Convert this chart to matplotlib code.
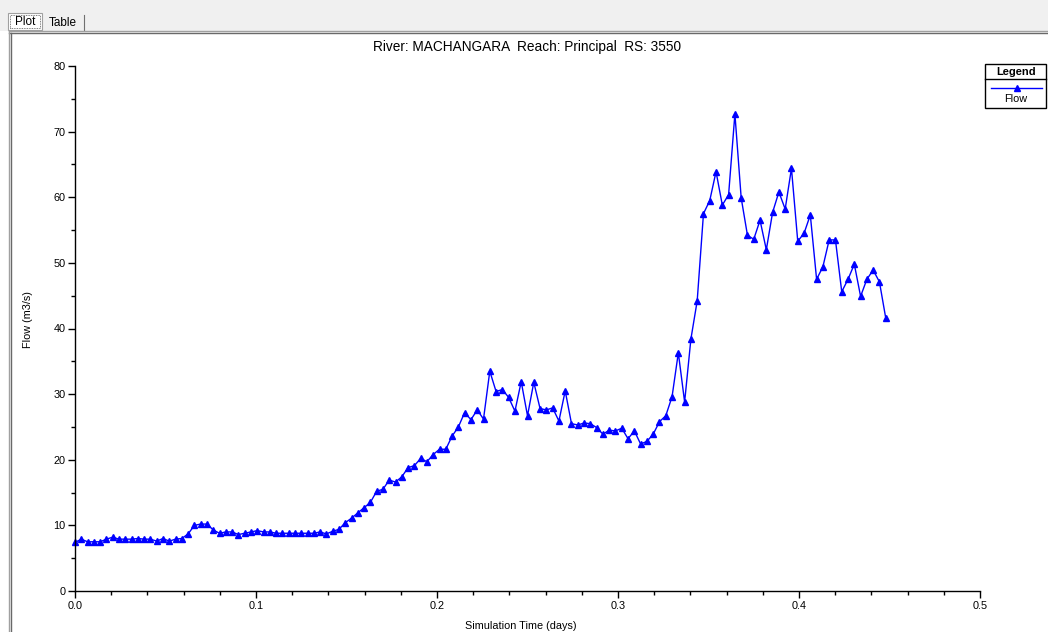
import numpy as np
import matplotlib
matplotlib.use("Agg")
import matplotlib.pyplot as plt
from matplotlib.lines import Line2D
from matplotlib.patches import Rectangle

# =========================
# DATA (read off the HEC-RAS hydrograph, 5 min output interval)
# =========================
step_minutes = 5
flow = [
    7.4, 7.9, 7.5, 7.5, 7.5, 7.9, 8.2, 7.9, 7.9, 7.9,
    8.0, 7.9, 7.9, 7.6, 8.0, 7.6, 7.9, 8.0, 8.7, 10.0,
    10.2, 10.2, 9.3, 8.8, 9.0, 9.0, 8.6, 8.8, 9.0, 9.2,
    9.0, 9.0, 8.8, 8.8, 8.8, 8.8, 8.8, 8.8, 8.8, 9.0,
    8.7, 9.1, 9.4, 10.4, 11.1, 11.9, 12.7, 13.5, 15.2, 15.5,
    16.9, 16.6, 17.4, 18.8, 19.1, 20.2, 19.7, 20.8, 21.6, 21.6,
    23.6, 25.0, 27.2, 26.1, 27.6, 26.2, 33.5, 30.4, 30.7, 29.5,
    27.4, 31.9, 26.7, 31.8, 27.8, 27.6, 27.9, 25.9, 30.5, 25.5,
    25.3, 25.6, 25.5, 24.9, 23.9, 24.5, 24.4, 24.8, 23.2, 24.4,
    22.4, 22.8, 23.9, 25.8, 26.7, 29.6, 36.3, 28.8, 38.4, 44.2,
    57.5, 59.5, 63.9, 58.8, 60.4, 72.7, 59.9, 54.2, 53.6, 56.5,
    52.0, 57.7, 60.8, 58.2, 64.4, 53.3, 54.5, 57.3, 47.5, 49.4,
    53.5, 53.5, 45.6, 47.5, 49.8, 44.9, 47.5, 48.9, 47.1, 41.6,
]
time_days = np.arange(len(flow)) * step_minutes / 1440.0

title = "River: MACHANGARA  Reach: Principal  RS: 3550"
x_label = "Simulation Time (days)"
y_label = "Flow (m3/s)"
series_name = "Flow"
x_ticks = [0.0, 0.1, 0.2, 0.3, 0.4, 0.5]
y_ticks = [0, 10, 20, 30, 40, 50, 60, 70, 80]

W, H = 1048, 632
LINE_BLUE = "#0000ff"
FONT = ["Liberation Sans Narrow", "Liberation Sans", "DejaVu Sans"]
plt.rcParams["font.family"] = ["Liberation Sans", "DejaVu Sans"]


def fx(px):
    return px / W


def fy(py):
    return 1 - py / H


# =========================
# FIGURE + WINDOW CHROME
# =========================
fig = plt.figure(figsize=(W / 100, H / 100), dpi=100, facecolor="white")

fig.add_artist(Rectangle((0, fy(31)), 1, 1 - fy(31), transform=fig.transFigure,
                         facecolor="#f0f0f0", edgecolor="none", zorder=0))
# tab headers
fig.add_artist(Rectangle((fx(8), fy(30)), fx(34), fy(13) - fy(30), transform=fig.transFigure,
                         facecolor="white", edgecolor="#a0a0a0", lw=0.8, zorder=1))
fig.text(fx(25), fy(22), "Plot", ha="center", va="center", fontsize=8.5, family=FONT[1:])
fig.add_artist(Rectangle((fx(10), fy(28)), fx(30), fy(15) - fy(28), transform=fig.transFigure,
                         facecolor="none", edgecolor="#555555", lw=0.6, ls=(0, (1, 1)), zorder=2))
fig.text(fx(63), fy(23), "Table", ha="center", va="center", fontsize=8.5, family=FONT[1:])
fig.add_artist(Line2D([fx(84), fx(84)], [fy(15), fy(30)], transform=fig.transFigure,
                      color="#707070", lw=0.8))
# panel border
fig.add_artist(Line2D([fx(9), fx(1048)], [fy(31), fy(31)], transform=fig.transFigure,
                      color="#a0a0a0", lw=1.0))
fig.add_artist(Line2D([fx(9), fx(1048)], [fy(33), fy(33)], transform=fig.transFigure,
                      color="#696969", lw=1.0))
fig.add_artist(Line2D([fx(9), fx(9)], [fy(31), 0], transform=fig.transFigure,
                      color="#a0a0a0", lw=1.0))
fig.add_artist(Line2D([fx(11), fx(11)], [fy(33), 0], transform=fig.transFigure,
                      color="#696969", lw=1.0))

# =========================
# PLOT
# =========================
ax = fig.add_axes([fx(75), fy(591), fx(980) - fx(75), fy(66) - fy(591)])
ax.plot(time_days, flow, color=LINE_BLUE, lw=1.0, marker="^", ms=4.2,
        markerfacecolor=LINE_BLUE, markeredgecolor=LINE_BLUE, clip_on=False)

ax.set_xlim(0, 0.5)
ax.set_ylim(0, 80)
ax.set_xticks(x_ticks)
ax.set_xticklabels([f"{t:.1f}" for t in x_ticks])
ax.set_xticks(np.arange(0, 0.5001, 0.02), minor=True)
ax.set_yticks(y_ticks)
ax.set_yticks(np.arange(0, 80.1, 5), minor=True)

for side in ["top", "right"]:
    ax.spines[side].set_visible(False)
for side in ["left", "bottom"]:
    ax.spines[side].set_linewidth(1.0)
    ax.spines[side].set_color("black")

ax.tick_params(which="major", direction="out", length=5, width=1, labelsize=7.8, pad=2)
ax.tick_params(which="minor", direction="out", length=3, width=1)
for lbl in ax.get_xticklabels() + ax.get_yticklabels():
    lbl.set_family(FONT)

# axis titles placed where HEC-RAS puts them
fig.text(fx(521), fy(626), x_label, ha="center", va="center", fontsize=7.8, family=FONT)
fig.text(fx(28), fy(320), y_label, ha="center", va="center", rotation=90,
         fontsize=7.8, family=FONT)
fig.text(fx(527), fy(47), title, ha="center", va="center", fontsize=9.8)

# =========================
# LEGEND BOX (HEC-RAS style)
# =========================
fig.add_artist(Rectangle((fx(985), fy(108)), fx(1046) - fx(985), fy(64) - fy(108),
                         transform=fig.transFigure, facecolor="white",
                         edgecolor="black", lw=1.0, zorder=3))
fig.add_artist(Line2D([fx(985), fx(1046)], [fy(79), fy(79)], transform=fig.transFigure,
                      color="black", lw=1.0, zorder=4))
fig.text(fx(1016), fy(72), "Legend", ha="center", va="center", fontsize=8,
         weight="bold", zorder=5)
fig.add_artist(Line2D([fx(991), fx(1042)], [fy(88), fy(88)], transform=fig.transFigure,
                      color=LINE_BLUE, lw=1.0, zorder=5))
fig.add_artist(Line2D([fx(1016.5)], [fy(88)], transform=fig.transFigure, color=LINE_BLUE,
                      marker="^", ms=4.2, zorder=6))
fig.text(fx(1016), fy(99.5), series_name, ha="center", va="center", fontsize=7.8, zorder=5)

fig.savefig("out.png", dpi=100, facecolor=fig.get_facecolor())
